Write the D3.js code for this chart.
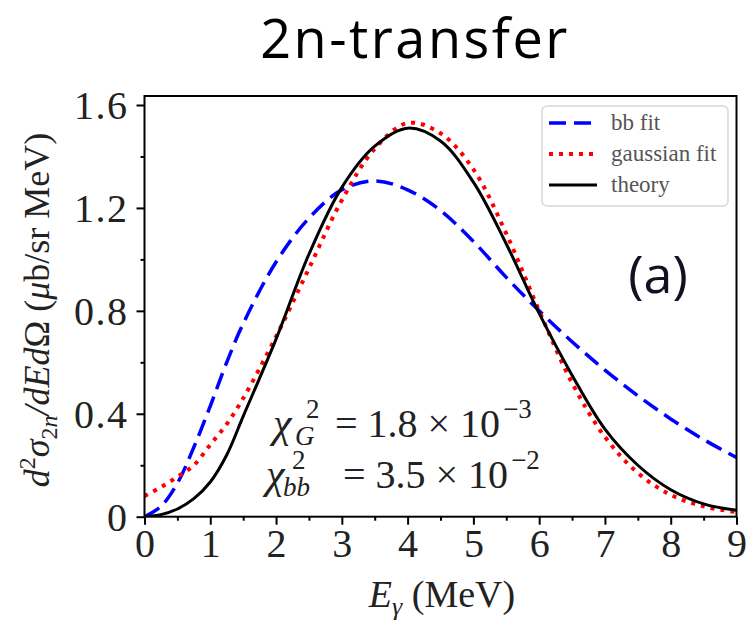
<!DOCTYPE html>
<html>
<head>
<meta charset="utf-8">
<script src="https://cdn.jsdelivr.net/npm/d3@7/dist/d3.min.js"></script>
<style>
  body { margin: 0; background: #fff; }
</style>
</head>
<body>
<script>
// 2n-transfer spectrum: theory vs. gaussian and bb fits

const WIDTH  = 749;
const HEIGHT = 623;

// data
const energy   = [0, 0.25, 0.5, 0.75, 1, 1.25, 1.5, 2, 2.5, 3, 3.5, 4, 4.5, 5, 5.5, 6, 6.5, 7, 7.5, 8, 8.5, 9];
const bbFit    = [0, 0.04, 0.13, 0.27, 0.43, 0.60, 0.75, 0.99, 1.16, 1.27, 1.305, 1.27, 1.19, 1.07, 0.93, 0.80, 0.68, 0.57, 0.47, 0.38, 0.30, 0.23];
const gaussFit = [0.08, 0.115, 0.155, 0.20, 0.28, 0.36, 0.46, 0.70, 0.965, 1.23, 1.43, 1.53, 1.49, 1.35, 1.10, 0.80, 0.52, 0.31, 0.17, 0.085, 0.04, 0.018];
const theory   = [0, 0.008, 0.03, 0.07, 0.135, 0.24, 0.39, 0.69, 1.02, 1.28, 1.44, 1.51, 1.46, 1.30, 1.06, 0.79, 0.55, 0.34, 0.20, 0.105, 0.05, 0.025];

const xTicks      = [0, 1, 2, 3, 4, 5, 6, 7, 8, 9];
const xMinorTicks = [0.5, 1.5, 2.5, 3.5, 4.5, 5.5, 6.5, 7.5, 8.5];
const yTicks      = [0, 0.4, 0.8, 1.2, 1.6];
const yTickLabels = ['0', '0.4', '0.8', '1.2', '1.6'];
const yMinorTicks = [0.2, 0.6, 1.0, 1.4];

const series = [
    { name: 'bb fit',       values: bbFit,    color: '#0000ff', dash: '17,8', width: 3.5 },
    { name: 'gaussian fit', values: gaussFit, color: '#ff0000', dash: '4,6',  width: 4 },
    { name: 'theory',       values: theory,   color: '#000000', dash: null,   width: 3 }
];

const plot = { left: 144.5, right: 736.5, top: 96, bottom: 516.7 };
const serif = "'Liberation Serif', 'DejaVu Serif', serif";

let svg = d3.select('body').append('svg')
    .attr('width', WIDTH)
    .attr('height', HEIGHT);

let x = d3.scaleLinear().domain([0, 9]).range([plot.left, plot.right]);
let y = d3.scaleLinear().domain([0, 1.635]).range([plot.bottom, plot.top]);

// title
svg.append('text')
    .attr('x', 415).attr('y', 58)
    .attr('text-anchor', 'middle')
    .style('font-family', "'Open Sans', sans-serif")
    .style('font-size', '54px')
    .style('letter-spacing', '2.5px')
    .text('2n-transfer');

// clip for the curves
svg.append('clipPath').attr('id', 'clip')
  .append('rect')
    .attr('x', plot.left).attr('y', plot.top)
    .attr('width', plot.right - plot.left).attr('height', plot.bottom - plot.top);

let line = d3.line()
    .x((d, i) => x(energy[i]))
    .y(d => y(d))
    .curve(d3.curveCatmullRom);

let curves = svg.append('g').attr('clip-path', 'url(#clip)');
series.forEach(s => {
    curves.append('path')
        .attr('d', line(s.values))
        .attr('fill', 'none')
        .attr('stroke', s.color)
        .attr('stroke-width', s.width)
        .attr('stroke-dasharray', s.dash);
});

// axes
let xAxis = svg.append('g')
    .attr('transform', `translate(0,${plot.bottom})`)
    .call(d3.axisBottom(x).tickValues(xTicks).tickSize(8).tickPadding(4));
svg.append('g')
    .attr('transform', `translate(0,${plot.bottom})`)
    .call(d3.axisBottom(x).tickValues(xMinorTicks).tickSize(4).tickFormat(''));

let yAxis = svg.append('g')
    .attr('transform', `translate(${plot.left},0)`)
    .call(d3.axisLeft(y).tickValues(yTicks).tickSize(8).tickPadding(8)
        .tickFormat((d, i) => yTickLabels[i]));
svg.append('g')
    .attr('transform', `translate(${plot.left},0)`)
    .call(d3.axisLeft(y).tickValues(yMinorTicks).tickSize(4).tickFormat(''));

svg.selectAll('.domain').remove();
svg.selectAll('.tick line').attr('stroke', '#000').attr('stroke-width', 2);
svg.selectAll('.tick text')
    .attr('fill', '#222')
    .style('font-family', serif)
    .style('font-size', '40px');
yAxis.selectAll('.tick text').attr('dy', '0.34em').style('letter-spacing', '1.5px');

// frame
svg.append('rect')
    .attr('x', plot.left).attr('y', plot.top)
    .attr('width', plot.right - plot.left).attr('height', plot.bottom - plot.top)
    .attr('fill', 'none')
    .attr('stroke', '#000')
    .attr('stroke-width', 2);

// axis labels
let xLabel = svg.append('text')
    .attr('x', 442).attr('y', 607)
    .attr('text-anchor', 'middle')
    .attr('fill', '#222')
    .style('font-family', serif)
    .style('font-size', '38px');
xLabel.append('tspan').style('font-style', 'italic').text('E');
xLabel.append('tspan').style('font-style', 'italic').style('font-size', '26px').attr('dy', 8).text('γ');
xLabel.append('tspan').attr('dy', -8).text(' (MeV)');

let yLabel = svg.append('text')
    .attr('transform', 'translate(49,310) rotate(-90)')
    .attr('text-anchor', 'middle')
    .attr('fill', '#222')
    .style('font-family', serif)
    .style('font-size', '36px');
yLabel.append('tspan').style('font-style', 'italic').text('d');
yLabel.append('tspan').style('font-size', '24px').attr('dy', -14).text('2');
yLabel.append('tspan').style('font-style', 'italic').attr('dy', 14).text('σ');
yLabel.append('tspan').style('font-size', '24px').attr('dy', 8).text('2');
yLabel.append('tspan').style('font-style', 'italic').style('font-size', '24px').text('n');
yLabel.append('tspan').style('font-style', 'italic').attr('dy', -8).text('/dEd');
yLabel.append('tspan').text('Ω (');
yLabel.append('tspan').style('font-style', 'italic').text('μ');
yLabel.append('tspan').text('b/sr MeV)');

// chi-square annotation, one text element per line
function chiLine(x0, base, sub, supX, subX, restX, rest, exp) {
    let t = svg.append('text')
        .attr('x', x0).attr('y', base)
        .attr('fill', '#222')
        .style('font-family', serif)
        .style('font-size', '40px');
    t.append('tspan').style('font-style', 'italic').style('font-size', '42px').text('χ');
    t.append('tspan').attr('x', supX).attr('y', base - 19).style('font-size', '27px').text('2');
    t.append('tspan').attr('x', subX).attr('y', base + 8)
        .style('font-style', 'italic').style('font-size', '27px').text(sub);
    t.append('tspan').attr('x', restX).attr('y', base).text(rest);
    t.append('tspan').attr('dx', 3).attr('y', base - 19).style('font-size', '27px').text(exp);
}
chiLine(273, 437, 'G', 306, 295, 335, '= 1.8 × 10', '−3');
chiLine(266, 488, 'bb', 292, 283, 343, '= 3.5 × 10', '−2');

// panel tag
svg.append('text')
    .attr('x', 658).attr('y', 293)
    .attr('text-anchor', 'middle')
    .attr('fill', '#111122')
    .style('font-family', "'Open Sans', sans-serif")
    .style('font-size', '52px')
    .text('(a)');

// legend
let legend = svg.append('g');
legend.append('rect')
    .attr('x', 542).attr('y', 106)
    .attr('width', 186).attr('height', 100)
    .attr('rx', 5)
    .attr('fill', '#fff').attr('fill-opacity', 0.8)
    .attr('stroke', '#d8d8d8').attr('stroke-width', 1.5);

series.forEach((s, i) => {
    let ly = 123 + i * 31;
    legend.append('line')
        .attr('x1', 549).attr('x2', 597)
        .attr('y1', ly).attr('y2', ly)
        .attr('stroke', s.color)
        .attr('stroke-width', s.width)
        .attr('stroke-dasharray', s.dash);
    legend.append('text')
        .attr('x', 611).attr('y', ly + 7)
        .attr('fill', '#555')
        .style('font-family', serif)
        .style('font-size', '23px')
        .text(s.name);
});
</script>
</body>
</html>
